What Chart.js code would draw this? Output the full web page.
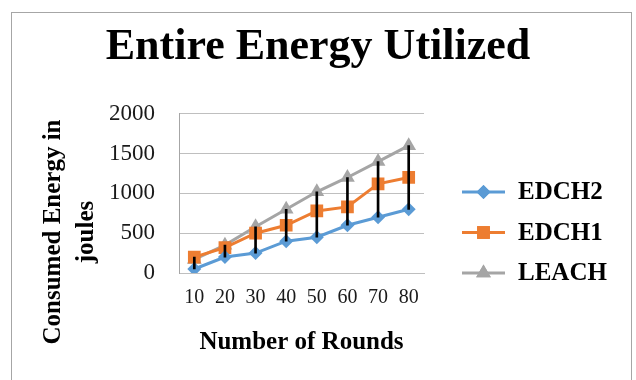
<!DOCTYPE html>
<html lang="en">
<head>
    <meta charset="UTF-8">
    <title>Entire Energy Utilized</title>
    <style>
        body {
            margin: 0;
            padding: 0;
            background: #ffffff;
            overflow: hidden;
        }

        .frame {
            position: absolute;
            left: 11px;
            top: 12px;
            width: 621px;
            height: 420px;
            border: 1px solid #a6a6a6;
            box-sizing: border-box;
        }

        .chart-container {
            position: absolute;
            left: 0;
            top: 0;
            width: 636px;
            height: 380px;
        }
    </style>
    <script src="https://cdn.jsdelivr.net/npm/chart.js"></script>
</head>
<body>
    <div class="frame"></div>
    <div class="chart-container">
        <canvas id="myChart"></canvas>
    </div>

    <script>
        const rounds = ['10', '20', '30', '40', '50', '60', '70', '80'];
        const edch2 = [50, 200, 250, 400, 450, 600, 700, 800];
        const edch1 = [200, 320, 500, 600, 780, 830, 1120, 1200];
        const leach = [170, 350, 580, 800, 1020, 1200, 1400, 1600];
        const yTicks = [0, 500, 1000, 1500, 2000];

        const serif = '"Liberation Serif", "Times New Roman", serif';

        // high-low line spans, taken from the series themselves
        const spans = rounds.map((r, i) => [
            Math.min(edch2[i], edch1[i], leach[i]),
            Math.max(edch2[i], edch1[i], leach[i])
        ]);

        const series = [
            { label: 'EDCH2', data: edch2, color: '#5b9bd5', point: 'rectRot', radius: 7 },
            { label: 'EDCH1', data: edch1, color: '#ed7d31', point: 'rect', radius: 9 },
            { label: 'LEACH', data: leach, color: '#a5a5a5', point: 'triangle', radius: 8.5 }
        ];

        const datasets = series.map(s => ({
            type: 'line',
            label: s.label,
            data: s.data,
            borderColor: s.color,
            backgroundColor: s.color,
            borderWidth: 3,
            pointStyle: s.point,
            pointRadius: s.radius,
            pointBorderWidth: 0,
            tension: 0,
            order: 1
        }));

        datasets.push({
            type: 'bar',
            label: 'hilo',
            data: spans,
            backgroundColor: '#000000',
            barThickness: 2,
            order: 0
        });

        // Excel-like legend: line + marker, then bold label
        const sideLegend = {
            id: 'sideLegend',
            afterDraw(chart, args, opts) {
                const c = chart.ctx;
                c.save();
                chart.data.datasets.forEach((d, i) => {
                    if (d.type !== 'line') return;
                    const y = opts.top + i * opts.gap;
                    const mx = opts.left + opts.lineLen / 2;
                    c.strokeStyle = d.borderColor;
                    c.lineWidth = 3;
                    c.beginPath();
                    c.moveTo(opts.left, y);
                    c.lineTo(opts.left + opts.lineLen, y);
                    c.stroke();
                    c.fillStyle = d.backgroundColor;
                    Chart.helpers.drawPoint(c, {
                        pointStyle: d.pointStyle,
                        radius: d.pointRadius,
                        rotation: 0,
                        borderWidth: 0
                    }, mx, y);
                    c.fill();
                    c.fillStyle = '#000000';
                    c.font = 'bold 25px ' + serif;
                    c.textBaseline = 'middle';
                    c.fillText(d.label, opts.left + opts.lineLen + 13, y + 1);
                });
                c.restore();
            }
        };

        // two-line rotated y title, centred like Excel does
        const yTitle = {
            id: 'yTitle',
            afterDraw(chart, args, opts) {
                const c = chart.ctx;
                c.save();
                c.fillStyle = '#000000';
                c.font = 'bold 25px ' + serif;
                c.textAlign = 'center';
                c.textBaseline = 'middle';
                opts.lines.forEach((t, i) => {
                    c.save();
                    c.translate(opts.x + i * opts.gap, opts.y);
                    c.rotate(-Math.PI / 2);
                    c.fillText(t, 0, 0);
                    c.restore();
                });
                c.restore();
            }
        };

        const ctx = document.getElementById('myChart').getContext('2d');
        const myChart = new Chart(ctx, {
            type: 'line',
            data: {
                labels: rounds,
                datasets: datasets
            },
            plugins: [sideLegend, yTitle],
            options: {
                responsive: true,
                maintainAspectRatio: false,
                animation: false,
                layout: {
                    padding: 0
                },
                plugins: {
                    title: {
                        display: true,
                        text: 'Entire Energy Utilized',
                        color: '#000000',
                        font: { family: serif, size: 44, weight: 'bold', lineHeight: 1.2 },
                        padding: { top: 21, bottom: 40 }
                    },
                    legend: { display: false },
                    tooltip: { enabled: false },
                    sideLegend: { left: 462, top: 192, gap: 40.5, lineLen: 43 },
                    yTitle: { lines: ['Consumed Energy in', 'joules'], x: 54, y: 232, gap: 33 }
                },
                scales: {
                    x: {
                        type: 'category',
                        offset: true,
                        afterFit: s => { s.height = 107; },
                        grid: { display: false, drawTicks: false },
                        border: { color: '#bfbfbf', width: 1 },
                        ticks: {
                            color: '#1a1a1a',
                            padding: 13,
                            maxRotation: 0,
                            autoSkip: false,
                            font: { family: serif, size: 20, lineHeight: 1.2 }
                        },
                        title: {
                            display: true,
                            text: 'Number of Rounds',
                            color: '#000000',
                            padding: { top: 0, bottom: 22 },
                            font: { family: serif, size: 25, weight: 'bold', lineHeight: 1.2 }
                        }
                    },
                    y: {
                        min: 0,
                        max: 2000,
                        afterFit: s => { s.width = 179; },
                        afterBuildTicks: axis => {
                            axis.ticks = yTicks.map(v => ({ value: v }));
                        },
                        grid: { color: '#bfbfbf', lineWidth: 1, drawTicks: false },
                        border: { color: '#a6a6a6', width: 1 },
                        ticks: {
                            color: '#1a1a1a',
                            padding: 24,
                            callback: v => String(v),
                            font: { family: serif, size: 23 }
                        }
                    },
                    // empty right-hand box that keeps room for the legend
                    side: {
                        type: 'linear',
                        position: 'right',
                        afterFit: s => { s.width = 212; },
                        grid: { display: false, drawTicks: false },
                        border: { display: false },
                        ticks: { display: false }
                    }
                }
            }
        });
    </script>
</body>
</html>
